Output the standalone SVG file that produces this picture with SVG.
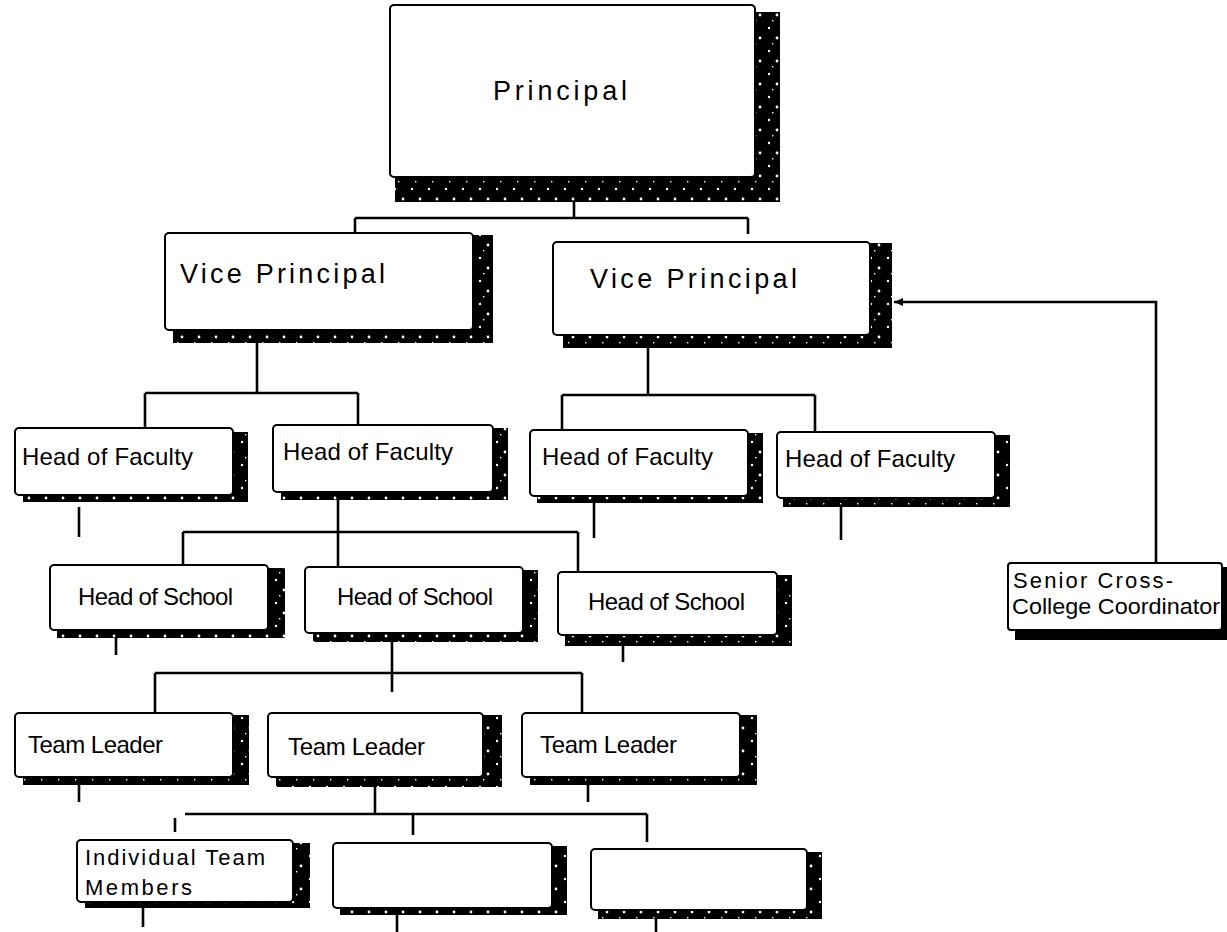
<svg xmlns="http://www.w3.org/2000/svg" width="1227" height="932" viewBox="0 0 1227 932">
<defs>
<pattern id="speckle" patternUnits="userSpaceOnUse" width="17" height="23">
<rect width="17" height="23" fill="#000"/>
<circle cx="4" cy="5" r="1.2" fill="#fff"/>
<circle cx="12" cy="15" r="1.4" fill="#fff"/>
<rect x="7" y="20" width="1.4" height="1.4" fill="#fff"/>
</pattern>
<marker id="arr" markerWidth="10" markerHeight="10" refX="9" refY="5" orient="auto" markerUnits="userSpaceOnUse">
<path d="M0,1 L9,5 L0,9 Z" fill="#000"/>
</marker>
<style>
.box{fill:#fff;stroke:#000;stroke-width:2}
.sh{fill:url(#speckle)}
.shs{fill:#000}
.t{font-family:"Liberation Sans",Arial,sans-serif;fill:#000;font-size:24px}
.tl{font-size:27px}
.ts{font-size:22px}
.c{fill:none;stroke:#000;stroke-width:2.6;stroke-linecap:butt}
</style>
</defs>
<rect width="1227" height="932" fill="#fff"/>

<g id="connectors">
<path class="c" d="M574,202 V218 M355,218 H748 M355,218 V233 M748,218 V234"/>
<path class="c" d="M257,343 V393 M145,393 H358 M145,393 V428 M358,393 V425"/>
<path class="c" d="M648,348 V395 M562,395 H815 M562,395 V430 M815,395 V432"/>
<path class="c" d="M1156,563 V302 H894" marker-end="url(#arr)"/>
<path class="c" d="M79,507 V537"/>
<path class="c" d="M338,500 V532 M183,532 H578 M183,532 V565 M338,532 V567 M578,532 V572"/>
<path class="c" d="M594,503 V538"/>
<path class="c" d="M841,507 V540"/>
<path class="c" d="M116,638 V655"/>
<path class="c" d="M392,642 V692 M155,673 H582 M155,673 V713 M582,673 V713"/>
<path class="c" d="M623,646 V662"/>
<path class="c" d="M79,785 V802"/>
<path class="c" d="M375,787 V814 M185,814 H647 M413,814 V835 M647,814 V842 M175,818 V832"/>
<path class="c" d="M588,785 V802"/>
<path class="c" d="M143,908 V927"/>
<path class="c" d="M397,915 V932"/>
<path class="c" d="M656,919 V932"/>
</g>

<g id="principal">
<rect class="sh" x="395" y="12" width="385" height="190"/>
<rect class="box" x="390" y="5" width="365" height="172" rx="4"/>
<text class="t tl" x="493" y="100" textLength="134" lengthAdjust="spacing">Principal</text>
</g>

<g id="vp-left">
<rect class="sh" x="173" y="235" width="320" height="108"/>
<rect class="box" x="165" y="233" width="308" height="97" rx="4"/>
<text class="t tl" x="180" y="283" textLength="205" lengthAdjust="spacing">Vice Principal</text>
</g>

<g id="vp-right">
<rect class="sh" x="563" y="243" width="329" height="105"/>
<rect class="box" x="553" y="242" width="317" height="93" rx="4"/>
<text class="t tl" x="590" y="288" textLength="207" lengthAdjust="spacing">Vice Principal</text>
</g>

<g id="hof1">
<rect class="sh" x="23" y="432" width="225" height="70"/>
<rect class="box" x="15" y="428" width="218" height="67" rx="4"/>
<text class="t" x="22" y="465" textLength="171" lengthAdjust="spacing">Head of Faculty</text>
</g>

<g id="hof2">
<rect class="sh" x="281" y="428" width="227" height="72"/>
<rect class="box" x="273" y="425" width="220" height="67" rx="4"/>
<text class="t" x="283" y="460" textLength="170" lengthAdjust="spacing">Head of Faculty</text>
</g>

<g id="hof3">
<rect class="sh" x="537" y="433" width="226" height="70"/>
<rect class="box" x="530" y="430" width="218" height="66" rx="4"/>
<text class="t" x="542" y="465" textLength="171" lengthAdjust="spacing">Head of Faculty</text>
</g>

<g id="hof4">
<rect class="sh" x="783" y="435" width="227" height="72"/>
<rect class="box" x="777" y="432" width="218" height="66" rx="4"/>
<text class="t" x="785" y="467" textLength="170" lengthAdjust="spacing">Head of Faculty</text>
</g>

<g id="hos1">
<rect class="sh" x="57" y="568" width="228" height="70"/>
<rect class="box" x="50" y="565" width="218" height="65" rx="4"/>
<text class="t" x="78" y="605" textLength="155" lengthAdjust="spacing">Head of School</text>
</g>

<g id="hos2">
<rect class="sh" x="313" y="570" width="225" height="72"/>
<rect class="box" x="305" y="567" width="218" height="66" rx="4"/>
<text class="t" x="337" y="605" textLength="156" lengthAdjust="spacing">Head of School</text>
</g>

<g id="hos3">
<rect class="sh" x="565" y="575" width="227" height="71"/>
<rect class="box" x="558" y="572" width="219" height="63" rx="4"/>
<text class="t" x="588" y="610" textLength="157" lengthAdjust="spacing">Head of School</text>
</g>

<g id="senior">
<rect class="shs" x="1015" y="567" width="225" height="73"/>
<rect class="box" x="1008" y="563" width="214" height="67" rx="3"/>
<text class="t ts" x="1013" y="588" textLength="160" lengthAdjust="spacing">Senior Cross-</text>
<text class="t ts" x="1012" y="614" textLength="208" lengthAdjust="spacingAndGlyphs">College Coordinator</text>
</g>

<g id="tl1">
<rect class="sh" x="23" y="715" width="226" height="70"/>
<rect class="box" x="15" y="713" width="218" height="64" rx="4"/>
<text class="t" x="28" y="753" textLength="135" lengthAdjust="spacing">Team Leader</text>
</g>

<g id="tl2">
<rect class="sh" x="276" y="715" width="226" height="72"/>
<rect class="box" x="268" y="713" width="215" height="64" rx="4"/>
<text class="t" x="288" y="755" textLength="137" lengthAdjust="spacing">Team Leader</text>
</g>

<g id="tl3">
<rect class="sh" x="530" y="715" width="227" height="70"/>
<rect class="box" x="522" y="713" width="218" height="64" rx="4"/>
<text class="t" x="540" y="753" textLength="137" lengthAdjust="spacing">Team Leader</text>
</g>

<g id="itm1">
<rect class="sh" x="85" y="843" width="225" height="65"/>
<rect class="box" x="77" y="840" width="216" height="62" rx="4"/>
<text class="t ts" x="85" y="865" textLength="180" lengthAdjust="spacing">Individual Team</text>
<text class="t ts" x="85" y="895" textLength="107" lengthAdjust="spacing">Members</text>
</g>

<g id="itm2">
<rect class="sh" x="340" y="846" width="227" height="69"/>
<rect class="box" x="333" y="843" width="219" height="65" rx="4"/>
</g>

<g id="itm3">
<rect class="sh" x="598" y="852" width="224" height="67"/>
<rect class="box" x="591" y="849" width="216" height="61" rx="4"/>
</g>
</svg>
